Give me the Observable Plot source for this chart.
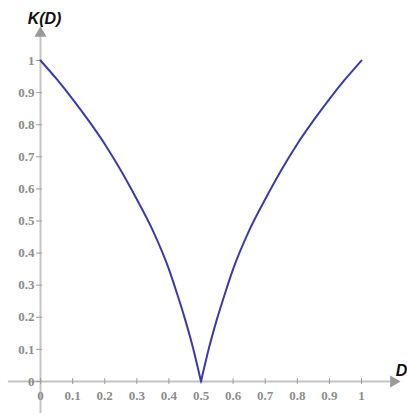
<!DOCTYPE html>
<html>
<head>
<meta charset="utf-8">
<script src="https://cdn.jsdelivr.net/npm/d3@7"></script>
<script src="https://cdn.jsdelivr.net/npm/@observablehq/plot@0.6"></script>
<style>
  html, body { margin: 0; padding: 0; background: #fff; }
  #chart svg { display: block; }
</style>
</head>
<body>
<div id="chart"></div>
<script>
// Curve values: K(D)
const dLeft  = [0, 0.05, 0.1, 0.15, 0.2, 0.25, 0.3, 0.35, 0.4, 0.425, 0.45, 0.475, 0.5];
const kLeft  = [1, 0.9425, 0.88, 0.8125, 0.74, 0.658, 0.5675, 0.47, 0.35, 0.275, 0.195, 0.105, 0];
const dRight = [0.5, 0.525, 0.55, 0.575, 0.6, 0.65, 0.7, 0.75, 0.8, 0.85, 0.9, 0.95, 1];
const kRight = [0, 0.105, 0.195, 0.275, 0.35, 0.47, 0.5675, 0.658, 0.74, 0.8125, 0.88, 0.9425, 1];

const xTicks = [0, 0.1, 0.2, 0.3, 0.4, 0.5, 0.6, 0.7, 0.8, 0.9, 1];
const yTicks = [0, 0.1, 0.2, 0.3, 0.4, 0.5, 0.6, 0.7, 0.8, 0.9, 1];
const xTickLabels = ["0", "0.1", "0.2", "0.3", "0.4", "0.5", "0.6", "0.7", "0.8", "0.9", "1"];
const yTickLabels = ["0", "0.1", "0.2", "0.3", "0.4", "0.5", "0.6", "0.7", "0.8", "0.9", "1"];
const yTitle = "K(D)";
const xTitle = "D";

const curve = [
  ...dLeft.map((d, i) => ({D: d, K: kLeft[i], side: "left"})),
  ...dRight.map((d, i) => ({D: d, K: kRight[i], side: "right"}))
];

const axisColor = "#c4c4c4";
const tickColor = "#9a9a9a";
const labelColor = "#8c8c8c";
const serif = "'Liberation Serif', 'DejaVu Serif', serif";
const sans = "'Liberation Sans', Arial, sans-serif";

const chart = Plot.plot({
  width: 407,
  height: 415,
  marginLeft: 40,
  marginRight: 46,
  marginTop: 60,
  marginBottom: 34,
  x: {domain: [0, 1], axis: null},
  y: {domain: [0, 1], axis: null},
  marks: [
    // axis lines
    Plot.ruleY([0], {x1: -0.1, x2: 1.09, stroke: axisColor, strokeWidth: 2}),
    Plot.ruleX([0], {y1: -0.1, y2: 1.075, stroke: axisColor, strokeWidth: 2}),
    // arrowheads
    Plot.dot([{x: 1.1, y: 0}], {x: "x", y: "y", symbol: "triangle", r: 4.5, rotate: 90, fill: tickColor, stroke: null}),
    Plot.dot([{x: 0, y: 1.085}], {x: "x", y: "y", symbol: "triangle", r: 4.5, fill: tickColor, stroke: null}),
    // ticks
    Plot.ruleX(xTicks, {x: d => d, y1: -0.009, y2: 0.009, stroke: tickColor, strokeWidth: 1}),
    Plot.ruleY(yTicks, {y: d => d, x1: -0.012, x2: 0.006, stroke: tickColor, strokeWidth: 1}),
    // tick labels
    Plot.text(xTicks, {x: d => d, y: 0, text: (d, i) => xTickLabels[i], dy: 14, fill: labelColor,
      fontFamily: serif, fontSize: 13, fontWeight: "bold", textAnchor: "middle"}),
    Plot.text(yTicks, {x: 0, y: d => d, text: (d, i) => yTickLabels[i], dx: -6, fill: labelColor,
      fontFamily: serif, fontSize: 13, fontWeight: "bold", textAnchor: "end"}),
    // curve
    Plot.line(curve, {x: "D", y: "K", z: "side", curve: "monotone-x", stroke: "#3a3aaa", strokeWidth: 2}),
    // axis titles
    Plot.text([yTitle], {x: 0.0125, y: 1.13, text: d => d, fontFamily: sans, fontSize: 16,
      fontWeight: "bold", fontStyle: "italic", fill: "#111", textAnchor: "middle"}),
    Plot.text([xTitle], {x: 1.107, y: 0.034, text: d => d, fontFamily: sans, fontSize: 16,
      fontWeight: "bold", fontStyle: "italic", fill: "#111", textAnchor: "start"})
  ]
});

document.getElementById("chart").appendChild(chart);
</script>
</body>
</html>
